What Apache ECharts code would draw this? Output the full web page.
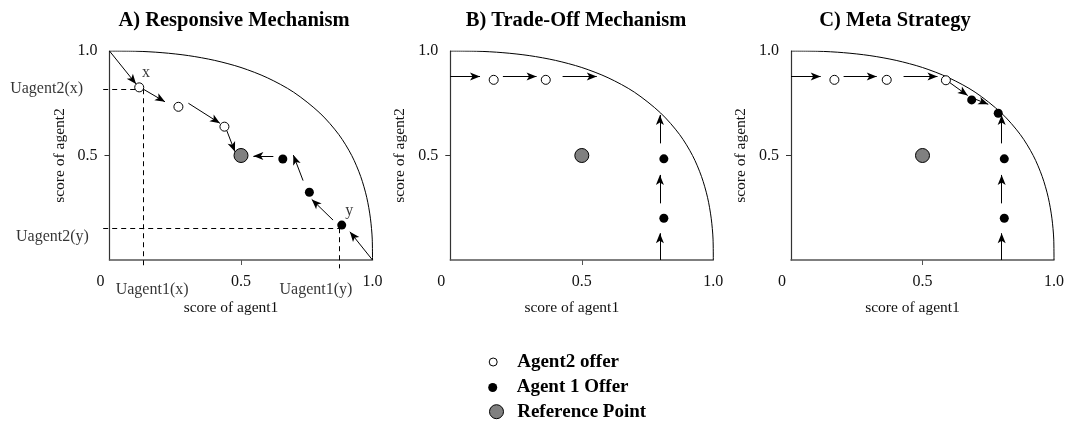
<!DOCTYPE html>
<html>
<head>
<meta charset="utf-8">
<title>Negotiation mechanisms</title>
<script src="https://cdn.jsdelivr.net/npm/echarts@6/dist/echarts.min.js"></script>
<style>
  html, body { margin: 0; padding: 0; background: #fff; }
  #chart { width: 1067px; height: 423px; }
</style>
</head>
<body>
<div id="chart"></div>
<script>
// pareto frontier (same curve in all three panels)
const frontier = [
  [0, 1], [0.1, 0.999], [0.2, 0.992], [0.3, 0.978], [0.4, 0.955], [0.5, 0.921],
  [0.6, 0.872], [0.7, 0.803], [0.8, 0.703], [0.872, 0.6], [0.921, 0.5],
  [0.955, 0.4], [0.978, 0.3], [0.992, 0.2], [0.999, 0.1], [1, 0]
];

const titles = ["A) Responsive Mechanism", "B) Trade-Off Mechanism", "C) Meta Strategy"];
const xTicks = [0, 0.5, 1];
const xTickText = ["0", "0.5", "1.0"];
const yTicks = [0.5, 1];
const yTickText = ["0.5", "1.0"];
const legendNames = ["Agent2 offer", "Agent 1 Offer", "Reference Point"];
const refPoint = [[0.5, 0.5]];

// A) responsive mechanism
const aAgent2 = [[0.113, 0.826], [0.262, 0.733], [0.437, 0.638]];
const aAgent1 = [[0.659, 0.483], [0.76, 0.324], [0.883, 0.167]];
const aArrows = [
  [[0, 1], [0.101, 0.842]],
  [[0.129, 0.817], [0.211, 0.757]],
  [[0.3, 0.75], [0.42, 0.654]],
  [[0.446, 0.619], [0.477, 0.518]],
  [[0.623, 0.498], [0.547, 0.498]],
  [[0.736, 0.38], [0.699, 0.502]],
  [[0.85, 0.191], [0.769, 0.29]],
  [[1, 0], [0.914, 0.135]]
];
const aGuides = [
  [[-0.024, 0.817], [0.128, 0.817]],
  [[0.128, 0.817], [0.128, -0.034]],
  [[-0.024, 0.152], [0.874, 0.152]],
  [[0.874, 0.152], [0.874, -0.04]]
];
const aNotes = [
  ["x", 0.139, 0.896], ["y", 0.912, 0.236],
  ["Uagent2(x)", -0.239, 0.82], ["Uagent2(y)", -0.217, 0.111],
  ["Uagent1(x)", 0.162, -0.144], ["Uagent1(y)", 0.785, -0.144]
];

// B) trade-off mechanism
const bAgent2 = [[0.165, 0.862], [0.363, 0.862]];
const bAgent1 = [[0.812, 0.484], [0.812, 0.2]];
const bArrows = [
  [[0, 0.878], [0.113, 0.878]],
  [[0.2, 0.878], [0.328, 0.878]],
  [[0.427, 0.878], [0.557, 0.878]],
  [[0.797, 0], [0.797, 0.128]],
  [[0.797, 0.271], [0.797, 0.407]],
  [[0.797, 0.558], [0.797, 0.694]]
];

// C) meta strategy
const cAgent2 = [[0.165, 0.862], [0.364, 0.862], [0.589, 0.86]];
const cAgent1 = [[0.687, 0.766], [0.788, 0.702], [0.811, 0.484], [0.811, 0.2]];
const cArrows = [
  [[0, 0.878], [0.113, 0.878]],
  [[0.2, 0.878], [0.326, 0.878]],
  [[0.428, 0.878], [0.557, 0.878]],
  [[0.6, 0.852], [0.672, 0.787]],
  [[0.7, 0.77], [0.75, 0.745]],
  [[0.801, 0], [0.801, 0.128]],
  [[0.801, 0.271], [0.801, 0.407]],
  [[0.801, 0.558], [0.801, 0.694]]
];

const font = "Liberation Serif";
const gridLeft = [109.5, 450.3, 791];
const titleX = [234, 576, 895];

const panels = [
  { agent2: aAgent2, agent1: aAgent1, arrows: aArrows, guides: aGuides, notes: aNotes },
  { agent2: bAgent2, agent1: bAgent1, arrows: bArrows, guides: [], notes: [] },
  { agent2: cAgent2, agent1: cAgent1, arrows: cArrows, guides: [], notes: [] }
];

let series = [];
panels.forEach((p, k) => {
  const axes = { xAxisIndex: k, yAxisIndex: k };
  series.push({
    type: "line", ...axes, data: frontier, smooth: 0.3, showSymbol: false, silent: true,
    lineStyle: { color: "#000", width: 1 }, z: 1
  });
  series.push({
    type: "lines", coordinateSystem: "cartesian2d", ...axes, clip: false, silent: true,
    symbol: ["none", "arrow"], symbolSize: [1, [6, 10]],
    lineStyle: { color: "#000", width: 1, opacity: 1 },
    data: p.arrows.map(c => ({ coords: c })), z: 2
  });
  if (p.guides.length) {
    series.push({
      type: "lines", coordinateSystem: "cartesian2d", ...axes, clip: false, silent: true,
      lineStyle: { color: "#000", width: 1, type: [5, 4], opacity: 1 },
      data: p.guides.map(c => ({ coords: c })), z: 2
    });
  }
  series.push({
    name: legendNames[0], type: "scatter", ...axes, data: p.agent2, symbolSize: 9,
    itemStyle: { color: "#fff", borderColor: "#000", borderWidth: 1, opacity: 1 }, z: 3
  });
  series.push({
    name: legendNames[1], type: "scatter", ...axes, data: p.agent1, symbolSize: 9,
    itemStyle: { color: "#000", opacity: 1 }, z: 3
  });
  series.push({
    name: legendNames[2], type: "scatter", ...axes, data: refPoint, symbolSize: 14,
    itemStyle: { color: "#808080", borderColor: "#000", borderWidth: 1, opacity: 1 }, z: 3
  });
  if (p.notes.length) {
    series.push({
      type: "scatter", ...axes, clip: false, silent: true, symbolSize: 1,
      itemStyle: { color: "rgba(0,0,0,0)" },
      label: { show: true, position: "inside", formatter: "{b}", color: "#000", fontSize: 16, fontFamily: font },
      data: p.notes.map(n => ({ name: n[0], value: [n[1], n[2]] })), z: 4
    });
  }
});

// legend icons: centre x, top, diameter; all labels start at the same x
const legendIcon = [
  { cx: 492.7, top: 352, size: 8, style: { color: "#fff", borderColor: "#000", borderWidth: 1 } },
  { cx: 492.7, top: 377.5, size: 9, style: { color: "#000" } },
  { cx: 496, top: 401.7, size: 14, style: { color: "#808080", borderColor: "#000", borderWidth: 1 } }
];
const legendTextX = 516.7;

const option = {
  animation: false,
  backgroundColor: "#fff",
  title: titles.map((t, k) => ({
    text: t, left: titleX[k], top: 10, textAlign: "center", padding: 0,
    textStyle: { fontFamily: font, fontWeight: "bold", fontSize: 20.5, color: "#000" }
  })),
  legend: legendNames.map((name, k) => {
    const ic = legendIcon[k];
    const left = ic.cx - ic.size / 2;
    const pad = legendTextX - (left + ic.size + 5);
    return {
      data: [{ name: name, icon: "circle", itemStyle: ic.style }],
      left: left, top: ic.top, padding: 0,
      itemWidth: ic.size, itemHeight: ic.size, itemGap: 5, selectedMode: false,
      formatter: "{t|" + name + "}",
      textStyle: {
        fontFamily: font, fontWeight: "bold", fontSize: 19, color: "#000", lineHeight: 20,
        rich: { t: { padding: [0, 0, 0, pad], fontFamily: font, fontWeight: "bold", fontSize: 19, color: "#000" } }
      }
    };
  }),
  grid: gridLeft.map(l => ({ left: l, top: 51, width: 263, height: 209 })),
  xAxis: gridLeft.map((l, k) => ({
    gridIndex: k, type: "value", min: 0, max: 1, interval: 0.5,
    axisLine: { show: true, lineStyle: { color: "#555", width: 1.5 } },
    axisTick: { show: true, customValues: [0.5], length: 5, lineStyle: { color: "#555" } },
    axisLabel: {
      customValues: xTicks, margin: 14, fontSize: 16, fontFamily: font, color: "#111",
      formatter: v => {
        const s = xTickText[xTicks.indexOf(v)];
        return v === 0 ? "{shift|" + s + "}" : s;
      },
      rich: { shift: { padding: [0, 18, 0, 0], fontSize: 16, fontFamily: font, color: "#111" } }
    },
    splitLine: { show: false },
    name: "score of agent1", nameLocation: "middle", nameGap: 40,
    nameTextStyle: { fontFamily: font, fontSize: 15.5, color: "#111", padding: [0, 20, 0, 0] }
  })),
  yAxis: gridLeft.map((l, k) => ({
    gridIndex: k, type: "value", min: 0, max: 1, interval: 0.5,
    axisLine: { show: true, lineStyle: { color: "#333", width: 1.2 } },
    axisTick: { show: true, customValues: [0.5], length: 5, lineStyle: { color: "#333" } },
    axisLabel: {
      customValues: yTicks, margin: 12, fontSize: 16, fontFamily: font, color: "#111",
      formatter: v => yTickText[yTicks.indexOf(v)]
    },
    splitLine: { show: false },
    name: "score of agent2", nameLocation: "middle", nameGap: 42, nameRotate: 90,
    nameTextStyle: { fontFamily: font, fontSize: 15.5, color: "#111" }
  })),
  series: series
};

const chart = echarts.init(document.getElementById("chart"));
chart.setOption(option);
</script>
</body>
</html>
